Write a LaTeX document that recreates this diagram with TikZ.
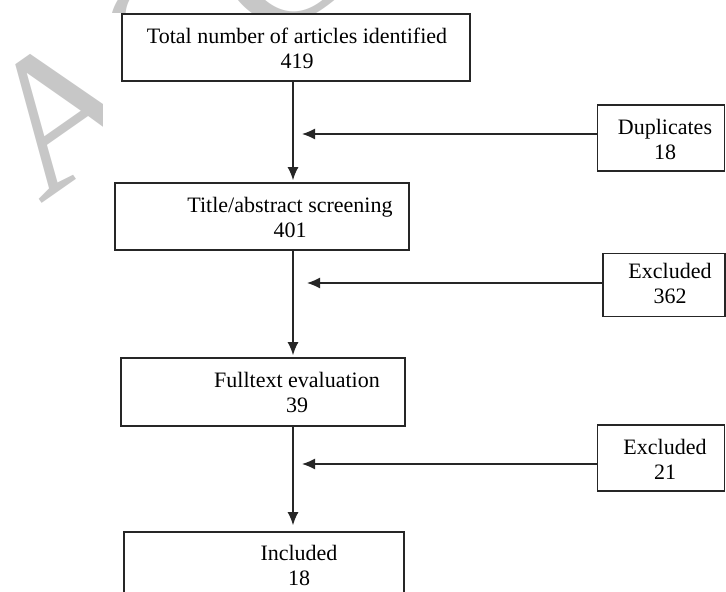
\documentclass[tikz,border=0pt]{standalone}
\usepackage{fontspec}
\setmainfont{Liberation Serif}
\usetikzlibrary{positioning}
\usetikzlibrary{arrows.meta}

\tikzset{
  stage/.style={draw=black!85, line width=1.8pt, fill=white, inner sep=0pt},
  caption/.style={align=center, inner sep=0pt, font=\fontsize{22}{25}\selectfont},
  flow/.style={draw=black!85, line width=1.3pt, -{Latex[length=13pt,width=11pt]}},
  watermark/.style={black!22, rotate=35, anchor=base west, inner sep=0pt, font=\fontsize{195}{195}\selectfont},
}

\begin{document}
\begin{tikzpicture}[x=1pt, y=-1pt]
\useasboundingbox (0,0) rectangle (726,592);
\clip (0,0) rectangle (726,592);

% watermark, mostly hidden by the chart
\node[watermark] (stamp) at (40,205) {ACCEPTED MANUSCRIPT};
\fill[white] (103,13) rectangle (726,592);

% main column
\node[stage, minimum width=348, minimum height=67] (total) at (296,47.5) {};
\node[stage, minimum width=294, minimum height=67] (screen) at (262,216.5) {};
\node[stage, minimum width=284, minimum height=68] (fulltext) at (263,392) {};
\node[stage, minimum width=280, minimum height=80] (included) at (264,572) {};

\node[caption] (totaltxt) at (297,48) {Total number of articles identified\\419};
\node[caption] (screentxt) at (290,217) {Title/abstract screening\\401};
\node[caption] (fulltexttxt) at (297,392) {Fulltext evaluation\\39};
\node[caption] (includedtxt) at (299,565) {Included\\18};

% side boxes
\node[stage, minimum width=127, minimum height=66] (dup) at (661,138) {};
\node[stage, minimum width=122, minimum height=63] (excA) at (664,285) {};
\node[stage, minimum width=127, minimum height=66] (excB) at (661,458) {};

\node[caption] (duptxt) at (665,139) {Duplicates\\18};
\node[caption] (excAtxt) at (670,283) {Excluded\\362};
\node[caption] (excBtxt) at (665,459) {Excluded\\21};

% down arrows
\coordinate (trunk) at (293,0);
\draw[flow, shorten >=2pt] (total.south -| trunk) -- (screen.north -| trunk);
\draw[flow, shorten >=2pt] (screen.south -| trunk) -- (fulltext.north -| trunk);
\draw[flow, shorten >=6pt] (fulltext.south -| trunk) -- (included.north -| trunk);

% arrows from the side
\coordinate (dupin) at (302,134);
\coordinate (excAin) at (307,283);
\coordinate (excBin) at (302,464);
\draw[flow] (dup.west |- dupin) -- (dupin);
\draw[flow] (excA.west |- excAin) -- (excAin);
\draw[flow] (excB.west |- excBin) -- (excBin);

\end{tikzpicture}
\end{document}
